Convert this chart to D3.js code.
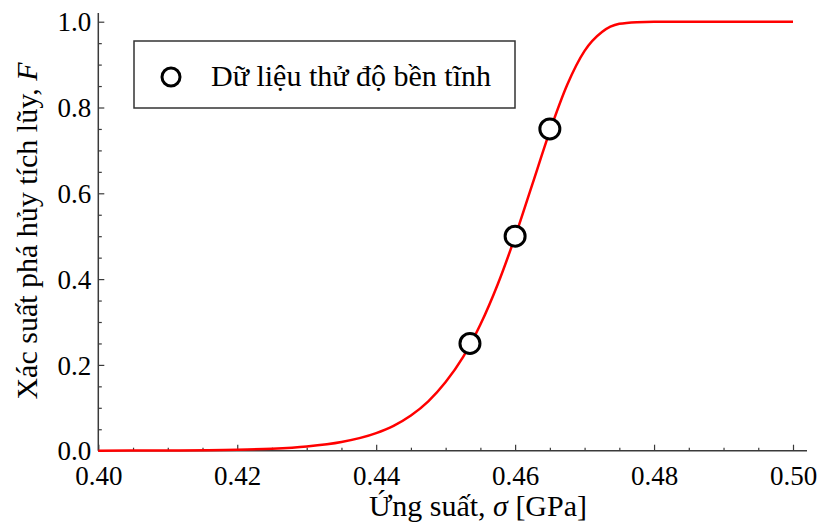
<!DOCTYPE html>
<html>
<head>
<meta charset="utf-8">
<script src="https://cdn.jsdelivr.net/npm/d3@7"></script>
<style>
  html, body { margin: 0; padding: 0; background: #fff; }
  svg { display: block; }
  svg text { font-family: "Liberation Serif", "Times New Roman", serif !important; fill: #000; }
</style>
</head>
<body>
<svg id="chart" width="818" height="525"></svg>
<script>
// ---- Data ----
const curveSigma = [0.40, 0.41, 0.42, 0.425, 0.43, 0.435, 0.44, 0.4425, 0.445, 0.4475, 0.45, 0.4525, 0.455, 0.4575, 0.46, 0.4625, 0.465, 0.4675, 0.47, 0.4725, 0.475, 0.4775, 0.48, 0.49, 0.50];
const curveF     = [0.0001, 0.0005, 0.0022, 0.0047, 0.0099, 0.0203, 0.041, 0.058, 0.082, 0.115, 0.160, 0.218, 0.294, 0.388, 0.499, 0.622, 0.745, 0.853, 0.932, 0.976, 0.995, 0.999, 1.0, 1.0, 1.0];
const testSigma  = [0.4535, 0.460, 0.465];
const testF      = [0.25, 0.50, 0.75];
const xMajorTicks = [0.40, 0.42, 0.44, 0.46, 0.48, 0.50];
const xTickLabels = ["0.40", "0.42", "0.44", "0.46", "0.48", "0.50"];
const yMajorTicks = [0.0, 0.2, 0.4, 0.6, 0.8, 1.0];
const yTickLabels = ["0.0", "0.2", "0.4", "0.6", "0.8", "1.0"];
const legendLabel = "Dữ liệu thử độ bền tĩnh";

// ---- Layout ----
const serif = "'Liberation Serif', 'Times New Roman', serif";
const svg = d3.select("#chart");
const x = d3.scaleLinear().domain([0.40, 0.50]).range([98.3, 793]);
const y = d3.scaleLinear().domain([0, 1]).range([450.7, 21.7]);
const axisColor = "#3a3a3a";

const xMinor = d3.range(0, 21).map(i => 0.40 + i * 0.005).filter(v => !xMajorTicks.some(t => Math.abs(t - v) < 1e-9));
const yMinor = d3.range(0, 21).map(i => i * 0.05).filter(v => !yMajorTicks.some(t => Math.abs(t - v) < 1e-9));

// Axis lines (extended beyond data range as in the reference)
svg.append("line").attr("x1", x(0.40)).attr("x2", 807).attr("y1", y(0)).attr("y2", y(0))
  .attr("stroke", axisColor).attr("stroke-width", 1.5);
svg.append("line").attr("x1", x(0.40)).attr("x2", x(0.40)).attr("y1", y(0)).attr("y2", 13)
  .attr("stroke", axisColor).attr("stroke-width", 1.5);

// X axis
const gxMinor = svg.append("g").attr("transform", `translate(0,${y(0)})`)
  .call(d3.axisBottom(x).tickValues(xMinor).tickSize(-3).tickFormat(""));
const gx = svg.append("g").attr("transform", `translate(0,${y(0)})`)
  .call(d3.axisBottom(x).tickValues(xMajorTicks).tickSize(-6).tickPadding(15)
    .tickFormat((d, i) => xTickLabels[i]));
// Y axis
const gyMinor = svg.append("g").attr("transform", `translate(${x(0.40)},0)`)
  .call(d3.axisLeft(y).tickValues(yMinor).tickSize(-3.5).tickFormat(""));
const gy = svg.append("g").attr("transform", `translate(${x(0.40)},0)`)
  .call(d3.axisLeft(y).tickValues(yMajorTicks).tickSize(-6).tickPadding(7)
    .tickFormat((d, i) => yTickLabels[i]));

[gxMinor, gx, gyMinor, gy].forEach(g => {
  g.attr("font-family", null).attr("font-size", null);
  g.select(".domain").remove();
  g.selectAll(".tick line").attr("stroke", axisColor).attr("stroke-width", 1.2);
  g.selectAll("text").style("font-family", serif).style("font-size", "27px").attr("fill", "#000");
});
gx.selectAll(".tick text").attr("dy", "0.71em");
gy.selectAll(".tick text").attr("dy", "0.34em");

// Curve
const line = d3.line().x((d, i) => x(curveSigma[i])).y((d, i) => y(curveF[i])).curve(d3.curveMonotoneX);
svg.append("path").datum(curveF).attr("d", line)
  .attr("fill", "none").attr("stroke", "#ff0000").attr("stroke-width", 2.5);

// Test data points
svg.append("g").selectAll("circle").data(testSigma).join("circle")
  .attr("cx", d => x(d)).attr("cy", (d, i) => y(testF[i])).attr("r", 10)
  .attr("fill", "#fff").attr("stroke", "#000").attr("stroke-width", 3);

// Axis titles
const xt = svg.append("text").attr("x", 478).attr("y", 516).attr("text-anchor", "middle").style("font-size", "30px");
xt.append("tspan").text("Ứng suất, ");
xt.append("tspan").attr("font-style", "italic").text("σ");
xt.append("tspan").text(" [GPa]");

const yt = svg.append("text").attr("transform", "translate(37,231) rotate(-90)").attr("text-anchor", "middle").style("font-size", "30px");
yt.append("tspan").text("Xác suất phá hủy tích lũy, ");
yt.append("tspan").attr("font-style", "italic").text("F");

// Legend
const lg = svg.append("g");
lg.append("rect").attr("x", 134).attr("y", 41).attr("width", 381).attr("height", 67)
  .attr("fill", "#fff").attr("stroke", "#333").attr("stroke-width", 1.5);
lg.append("circle").attr("cx", 171).attr("cy", 77).attr("r", 9)
  .attr("fill", "#fff").attr("stroke", "#000").attr("stroke-width", 3);
lg.append("text").attr("x", 211).attr("y", 86).style("font-size", "30px").text(legendLabel);
</script>
</body>
</html>
